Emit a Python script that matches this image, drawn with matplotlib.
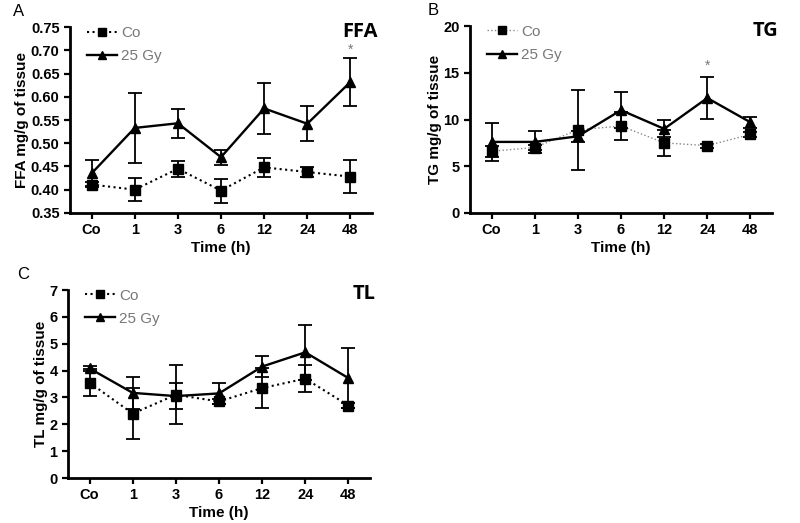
import matplotlib
matplotlib.use("Agg")
import matplotlib.pyplot as plt
from matplotlib.lines import Line2D

plt.rcParams['font.family'] = ['Liberation Sans', 'DejaVu Sans']

times = ['Co', '1', '3', '6', '12', '24', '48']

# FFA (mg/g of tissue)
ffa_co = [0.411, 0.400, 0.445, 0.398, 0.448, 0.438, 0.428]
ffa_co_err = [0.005, 0.025, 0.017, 0.026, 0.020, 0.011, 0.035]
ffa_gy = [0.435, 0.533, 0.543, 0.470, 0.575, 0.542, 0.632]
ffa_gy_err = [0.028, 0.075, 0.031, 0.016, 0.055, 0.038, 0.052]

# TG (mg/g of tissue)
tg_co = [6.6, 7.0, 8.9, 9.3, 7.5, 7.2, 8.4]
tg_co_err = [0.6, 0.3, 4.3, 1.5, 1.4, 0.2, 0.3]
tg_gy = [7.6, 7.6, 8.2, 11.0, 9.0, 12.3, 9.7]
tg_gy_err = [2.0, 1.2, 0.6, 1.9, 0.9, 2.2, 0.6]

# TL (mg/g of tissue)
tl_co = [3.55, 2.4, 3.1, 2.85, 3.35, 3.7, 2.7]
tl_co_err = [0.5, 0.95, 1.1, 0.1, 0.75, 0.5, 0.1]
tl_gy = [4.08, 3.17, 3.05, 3.15, 4.15, 4.68, 3.72]
tl_gy_err = [0.1, 0.6, 0.48, 0.4, 0.38, 1.02, 1.12]

fig = plt.figure(figsize=(8, 5.23), dpi=100)
ax_a = fig.add_axes([0.0875, 0.593, 0.3775, 0.355])
ax_b = fig.add_axes([0.5875, 0.593, 0.3775, 0.357])
ax_c = fig.add_axes([0.085, 0.086, 0.3775, 0.3595])


def draw_panel(ax, co, co_err, gy, gy_err, ylim, yticks, ytick_fmt, name,
               letter, letter_x, co_color, co_lw):
    x = list(range(len(times)))
    co_line, _, _ = ax.errorbar(x, co, yerr=co_err, color='black',
                                linestyle=':', linewidth=co_lw, marker='s',
                                markersize=7.5, capsize=5, elinewidth=1.3,
                                capthick=1.3, zorder=3)
    co_line.set_color(co_color)
    co_line.set_markerfacecolor('black')
    co_line.set_markeredgecolor('black')
    ax.errorbar(x, gy, yerr=gy_err, color='black', linestyle='-',
                linewidth=1.7, marker='^', markersize=7.5, capsize=5,
                elinewidth=1.3, capthick=1.3, zorder=4)
    ax.set_xlim(-0.5, 6.5)
    ax.set_ylim(*ylim)
    ax.set_yticks(yticks)
    ax.set_yticklabels([ytick_fmt.format(v) for v in yticks])
    ax.set_xticks(x)
    ax.set_xticklabels(times)
    for side in ['top', 'right']:
        ax.spines[side].set_visible(False)
    for side in ['left', 'bottom']:
        ax.spines[side].set_linewidth(2)
    ax.tick_params(direction='out', width=1.6, length=4, labelsize=10.5)
    ax.tick_params(axis='x', pad=3)
    for lab in ax.get_xticklabels() + ax.get_yticklabels():
        lab.set_fontweight('bold')
    ax.set_xlabel('Time (h)', fontsize=11, fontweight='bold', labelpad=3)
    ax.set_ylabel(name + ' mg/g of tissue', fontsize=11, fontweight='bold',
                  labelpad=1)
    handles = [
        Line2D([], [], color=co_color, linestyle=':', linewidth=co_lw,
               marker='s', markersize=5.5, markerfacecolor='black',
               markeredgecolor='black'),
        Line2D([], [], color='black', linestyle='-', linewidth=1.7,
               marker='^', markersize=5.5),
    ]
    leg = ax.legend(handles, ['Co', '25 Gy'], loc='upper left',
                    frameon=False, fontsize=11, handlelength=2.0,
                    handletextpad=0.25, borderaxespad=0.0, labelspacing=0.6,
                    bbox_to_anchor=(0.035, 1.04))
    for t in leg.get_texts():
        t.set_color('#777777')
    ax.text(1.02, 1.03, name, transform=ax.transAxes, ha='right', va='top',
            fontsize=14.5, fontweight='bold', family='Open Sans')
    ax.text(letter_x, 1.045, letter, transform=ax.transAxes, ha='left',
            va='bottom', fontsize=12)


draw_panel(ax_a, ffa_co, ffa_co_err, ffa_gy, ffa_gy_err, (0.35, 0.75),
           [0.35, 0.40, 0.45, 0.50, 0.55, 0.60, 0.65, 0.70, 0.75], '{:.2f}',
           'FFA', 'A', -0.19, 'black', 1.5)
draw_panel(ax_b, tg_co, tg_co_err, tg_gy, tg_gy_err, (0, 20),
           [0, 5, 10, 15, 20], '{:d}', 'TG', 'B', -0.14, '#888888', 1.0)
draw_panel(ax_c, tl_co, tl_co_err, tl_gy, tl_gy_err, (0, 7),
           [0, 1, 2, 3, 4, 5, 6, 7], '{:d}', 'TL', 'C', -0.17, 'black', 1.5)

# significance markers
ax_a.text(6, ffa_gy[6] + ffa_gy_err[6] + 0.017, '*', ha='center',
          va='center', color='#777777', fontsize=10)
ax_b.text(5, tg_gy[5] + tg_gy_err[5] + 1.3, '*', ha='center',
          va='center', color='#777777', fontsize=10)

fig.savefig('out.png', dpi=100)
